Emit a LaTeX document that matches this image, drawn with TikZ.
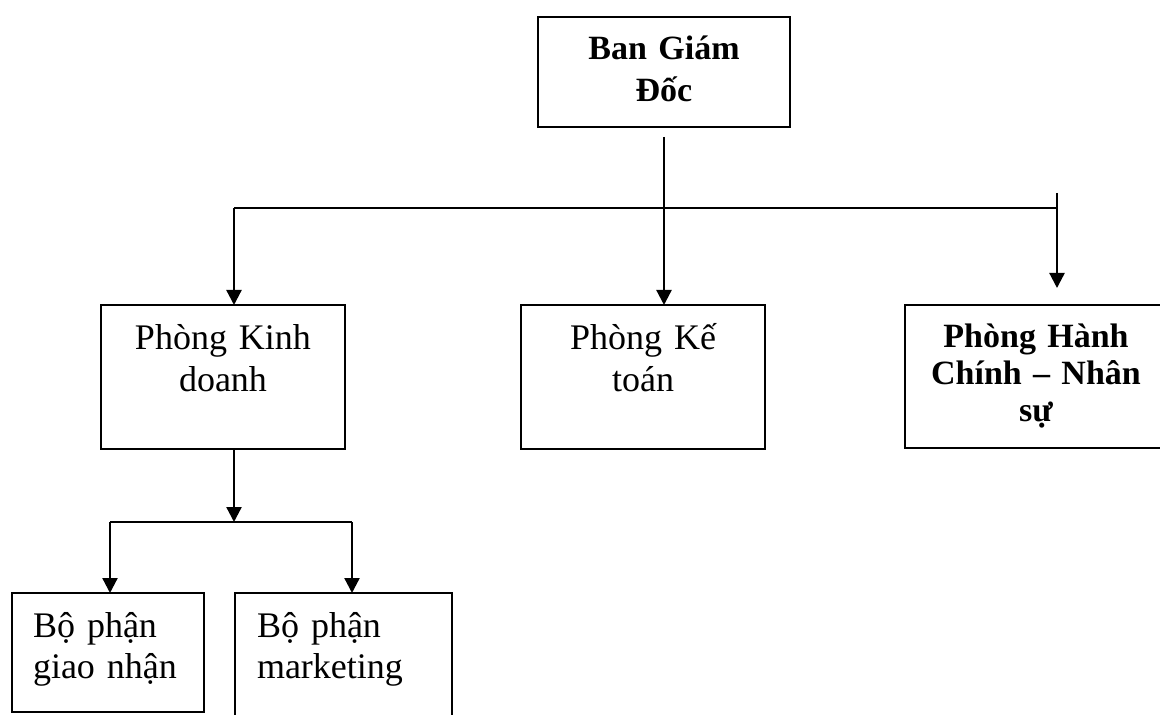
\documentclass[tikz,border=0pt]{standalone}
\usepackage{fontspec}
\setmainfont{Liberation Serif}
\usetikzlibrary{arrows.meta}

\begin{document}
\begin{tikzpicture}[
        x=0.5pt, y=-0.5pt,
        >={Triangle[length=7.5pt,width=7.5pt]}, line width=1.15pt,
        box/.style={draw, anchor=north west, outer sep=0pt, inner ysep=0pt,
                    font=\fontsize{18}{21}\selectfont},
        headbox/.style={box, font=\fontsize{17}{21}\selectfont\bfseries},
        deptbox/.style={box, align=center, inner xsep=0pt, text width=122pt,
                        text height=22.5pt, text depth=49.5pt},
        partbox/.style={box, align=left, font=\fontsize{18}{20.5}\selectfont,
                        text height=22pt},
    ]
    \useasboundingbox (0,0) rectangle (1160,715);

    \node[headbox, align=center, inner xsep=0pt, text width=126pt,
          text height=21.5pt, text depth=33.5pt] (bgd) at (538,17) {Ban Giám\\Đốc};

    \node[deptbox] (pkd) at (101,305) {Phòng Kinh\\doanh};
    \node[deptbox] (pkt) at (521,305) {Phòng Kế\\toán};
    \node[headbox, align=center, inner xsep=0pt, text width=131pt,
          font=\fontsize{17}{18.5}\selectfont\bfseries,
          text height=21.5pt, text depth=50pt] (phc) at (905,305) {Phòng Hành\\Chính – Nhân\\sự};

    \node[partbox, inner xsep=10.5pt, text width=75pt, text depth=37.5pt]
        (bpgn) at (12,593) {Bộ phận\\giao nhận};
    \node[partbox, inner xsep=11pt, text width=86.5pt, text depth=61.5pt]
        (bpmk) at (235,593) {Bộ phận\\marketing};

    % upper branch
    \coordinate (busL) at (234,208);
    \coordinate (busR) at (1057,208);
    \coordinate (stubR) at (1057,193);
    \draw[->, shorten <=5pt] (bgd.south) -- (bgd.south |- pkt.north);
    \draw (busL) -- (busR);
    \draw[->] (busL) -- (busL |- pkd.north);
    \draw[->, shorten >=8.5pt] (stubR) -- (stubR |- phc.north);

    % lower branch
    \coordinate (subhub) at (234,522);
    \coordinate (subL) at (110,522);
    \coordinate (subR) at (352,522);
    \draw[->] (busL |- pkd.south) -- (subhub);
    \draw (subL) -- (subR);
    \draw[->] (subL) -- (subL |- bpgn.north);
    \draw[->] (subR) -- (subR |- bpmk.north);
\end{tikzpicture}
\end{document}
